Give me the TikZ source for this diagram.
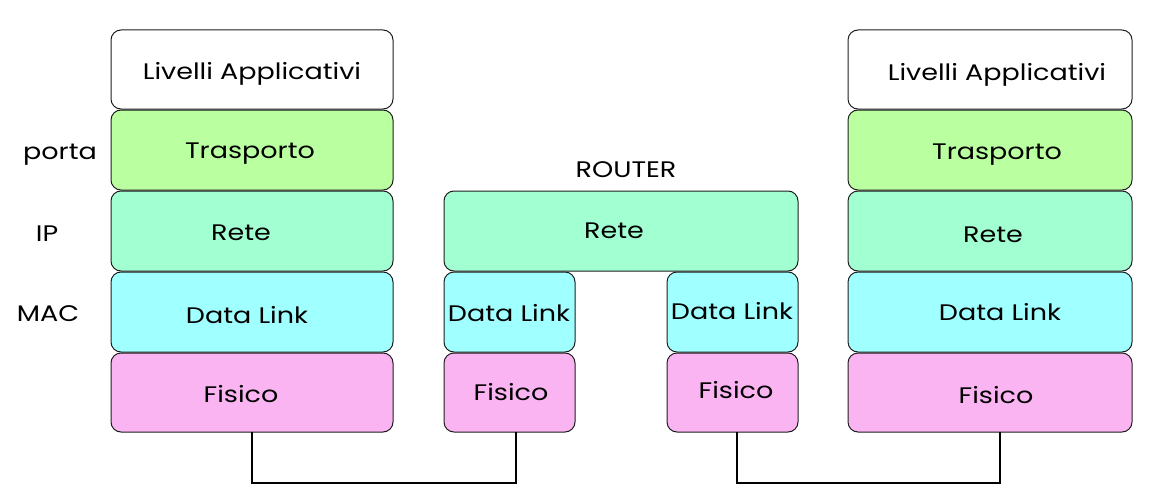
\documentclass[tikz,border=0pt]{standalone}
\usepackage{fontspec}
\setmainfont{Poppins}[FakeStretch=1.2]
\definecolor{cTra}{RGB}{186,255,160}
\definecolor{cRete}{RGB}{162,255,210}
\definecolor{cDL}{RGB}{160,255,255}
\definecolor{cFis}{RGB}{250,180,242}
\definecolor{cBord}{RGB}{30,30,30}
\tikzset{
  layer/.style={draw=cBord, line width=1pt, rounded corners=10pt},
  lbl/.style={font=\fontsize{22.5pt}{26pt}\selectfont, text=black, inner sep=0pt, anchor=base},
  wire/.style={draw=black, line width=1.4pt}
}
\begin{document}
\begin{tikzpicture}[x=1pt,y=-1pt]
\useasboundingbox (0,0) rectangle (1159,503);
% left stack
\path[layer, fill=white] (111,30) rectangle (393,109);
\path[layer, fill=cTra] (111,110) rectangle (393,190);
\path[layer, fill=cRete] (111,191) rectangle (393,271);
\path[layer, fill=cDL] (111,272) rectangle (393,352);
\path[layer, fill=cFis] (111,353) rectangle (393,432);
\node[lbl] (lapp) at (252,80) {Livelli Applicativi};
\node[lbl] (ltra) at (250,158) {Trasporto};
\node[lbl] (lrete) at (241,240) {Rete};
\node[lbl] (ldl) at (247,323) {Data Link};
\node[lbl] (lfis) at (241,402) {Fisico};
% side labels
\node[lbl] (porta) at (60,159) {porta};
\node[lbl] (ip) at (47,241) {IP};
\node[lbl] (mac) at (48,321) {MAC};
% router
\node[lbl] (router) at (626,177) {ROUTER};
\path[layer, fill=cRete] (444,191) rectangle (798,271);
\path[layer, fill=cDL] (444,272) rectangle (575,352);
\path[layer, fill=cFis] (444,353) rectangle (575,432);
\path[layer, fill=cDL] (667,272) rectangle (798,352);
\path[layer, fill=cFis] (667,353) rectangle (798,432);
\node[lbl] (rrete) at (614,238) {Rete};
\node[lbl] (rdl1) at (509,321) {Data Link};
\node[lbl] (rfis1) at (511,400) {Fisico};
\node[lbl] (rdl2) at (732,319) {Data Link};
\node[lbl] (rfis2) at (736,398) {Fisico};
% right stack
\path[layer, fill=white] (848,30) rectangle (1132,109);
\path[layer, fill=cTra] (848,110) rectangle (1132,190);
\path[layer, fill=cRete] (848,191) rectangle (1132,271);
\path[layer, fill=cDL] (848,272) rectangle (1132,352);
\path[layer, fill=cFis] (848,353) rectangle (1132,432);
\node[lbl] (bapp) at (997,81) {Livelli Applicativi};
\node[lbl] (btra) at (997,159) {Trasporto};
\node[lbl] (brete) at (993,242) {Rete};
\node[lbl] (bdl) at (1000,320) {Data Link};
\node[lbl] (bfis) at (996,403) {Fisico};
% wires
\coordinate (w1a) at (252,432);
\coordinate (w1b) at (516,432);
\coordinate (w2a) at (737,432);
\coordinate (w2b) at (1000,432);
\draw[wire] (w1a) -- ++(0,51) -| (w1b);
\draw[wire] (w2a) -- ++(0,51) -| (w2b);
\end{tikzpicture}
\end{document}
